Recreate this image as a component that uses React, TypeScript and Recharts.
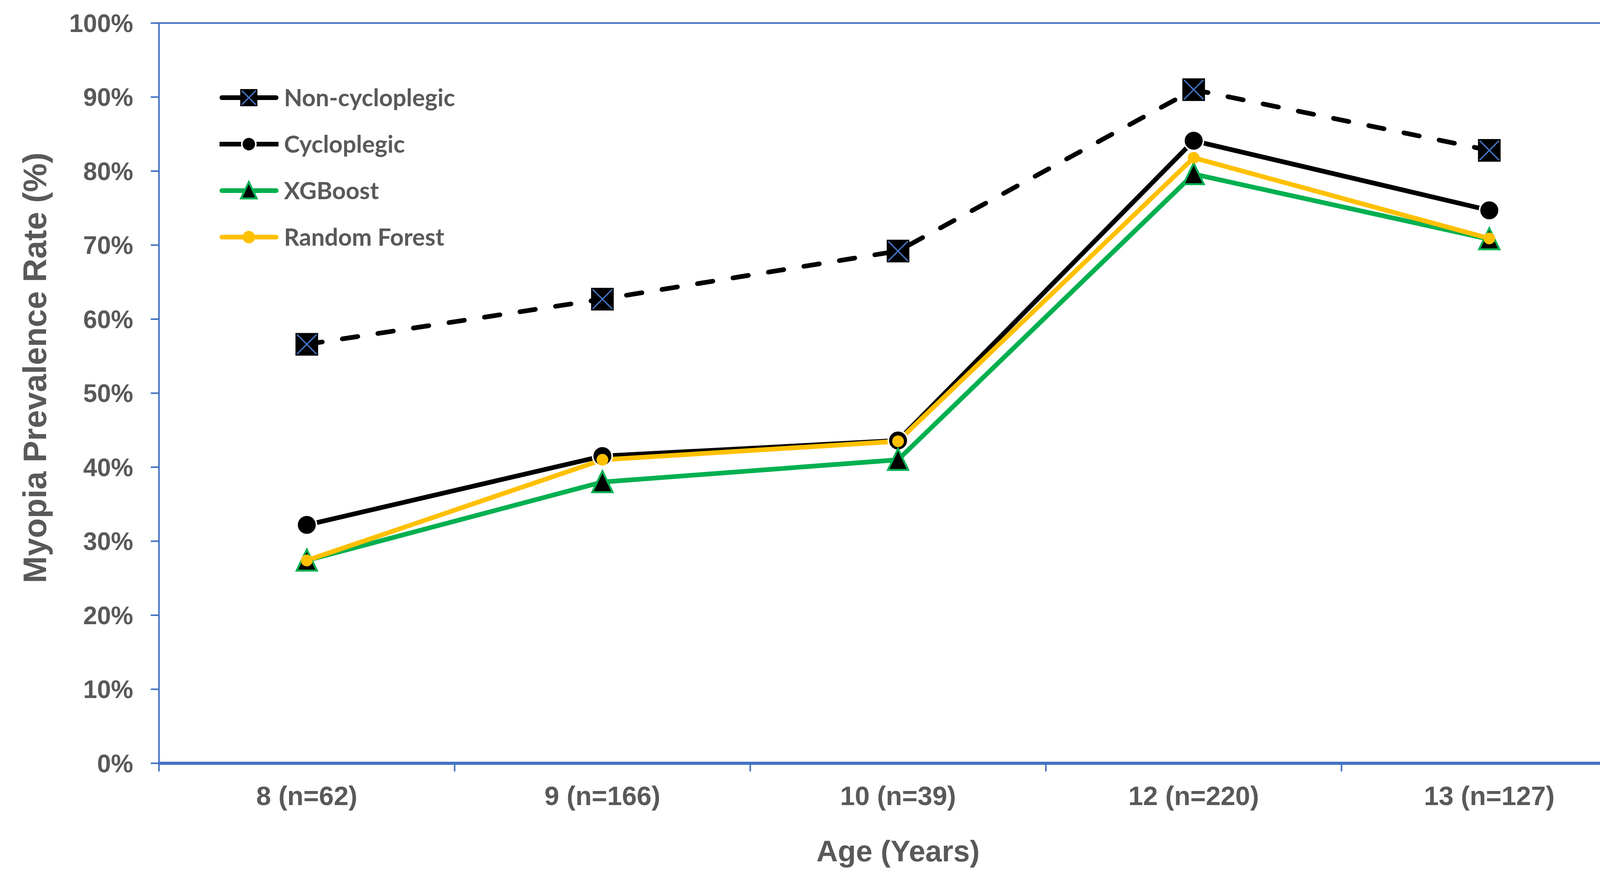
import { LineChart, Line, XAxis, YAxis, ReferenceArea, Legend, Label } from "recharts";

const categories = ["8 (n=62)", "9 (n=166)", "10 (n=39)", "12 (n=220)", "13 (n=127)"];
const nonCycloplegic = [56.6, 62.7, 69.2, 91.0, 82.8];
const cycloplegic = [32.2, 41.5, 43.6, 84.1, 74.7];
const xgboost = [27.4, 38.0, 41.0, 79.6, 70.8];
const randomForest = [27.4, 41.0, 43.5, 81.8, 70.9];
const yTicks = [0, 10, 20, 30, 40, 50, 60, 70, 80, 90, 100];
const xBoundaries = [0, 1, 2, 3, 4, 5];

const W = 4226;
const H = 2240;
const M = { top: 59, right: 35, left: 0, bottom: 0 };
const Y_AXIS_W = 407;
const X_AXIS_H = 286;
const BAND = (W - M.right - Y_AXIS_W) / categories.length;

const BLUE = "#4472C4";
const GRAY = "#595959";
const GREEN = "#00B050";
const YELLOW = "#FFC000";
const ARIAL = "'Liberation Sans', Arial, sans-serif";
const LINE_W = 12;

const data = categories.map((label, i) => ({
  x: i + 0.5,
  label,
  nonCyclo: nonCycloplegic[i],
  cyclo: cycloplegic[i],
  xgb: xgboost[i],
  rf: randomForest[i],
}));

type MarkProps = { cx: number; cy: number; legend?: boolean };

const SquareX = ({ cx, cy, legend }: MarkProps) => {
  const s = legend ? 42 : 56;
  const h = s / 2 - 3;
  return (
    <g>
      <rect x={cx - s / 2} y={cy - s / 2} width={s} height={s} fill="#000" stroke="#000" strokeWidth={2} />
      <line x1={cx - h} y1={cy - h} x2={cx + h} y2={cy + h} stroke={BLUE} strokeWidth={3.5} />
      <line x1={cx + h} y1={cy - h} x2={cx - h} y2={cy + h} stroke={BLUE} strokeWidth={3.5} />
    </g>
  );
};

const BlackDot = ({ cx, cy, legend }: MarkProps) => (
  <circle cx={cx} cy={cy} r={legend ? 18 : 25} fill="#000" stroke="#fff" strokeWidth={4} />
);

const Triangle = ({ cx, cy, legend }: MarkProps) => {
  const s = legend ? 40 : 52;
  return (
    <polygon
      points={`${cx},${cy - s / 2 - 2} ${cx + s / 2},${cy + s / 2} ${cx - s / 2},${cy + s / 2}`}
      fill="#000"
      stroke={GREEN}
      strokeWidth={5}
      strokeLinejoin="miter"
    />
  );
};

const YellowDot = ({ cx, cy, legend }: MarkProps) => (
  <circle cx={cx} cy={cy} r={legend ? 16 : 15} fill={YELLOW} />
);

const series = [
  { key: "nonCyclo", name: "Non-cycloplegic", color: "#000", dash: "40 52", Marker: SquareX, cap: "round" },
  { key: "cyclo", name: "Cycloplegic", color: "#000", dash: undefined, Marker: BlackDot, cap: "butt" },
  { key: "xgb", name: "XGBoost", color: GREEN, dash: undefined, Marker: Triangle, cap: "round" },
  { key: "rf", name: "Random Forest", color: YELLOW, dash: undefined, Marker: YellowDot, cap: "round" },
];

const XTick = (props: any) => {
  const { x, y, payload } = props;
  const i = payload.value;
  if (i >= categories.length) return <g />;
  return (
    <text x={x + BAND / 2} y={y + 86} textAnchor="middle" fill={GRAY} fontFamily={ARIAL} fontWeight="bold" fontSize={68}>
      {categories[i]}
    </text>
  );
};

const renderLegend = () => (
  <svg width={900} height={480}>
    {series.map((s, i) => {
      const cy = 60 + i * 119;
      const Mk = s.Marker;
      return (
        <g key={s.key}>
          <line x1={s.cap === "round" ? 28 : 22} y1={cy} x2={s.cap === "round" ? 167 : 173} y2={cy} stroke={s.color} strokeWidth={LINE_W} strokeLinecap={s.cap as any} />
          <Mk cx={97} cy={cy} legend />
          <text x={187} y={cy} dy="0.36em" fill={GRAY} fontFamily="Lato, 'Open Sans', sans-serif" fontWeight="bold" fontSize={61}>
            {s.name}
          </text>
        </g>
      );
    })}
  </svg>
);

export default function App() {
  return (
    <div style={{ position: "absolute", left: 0, top: 0, background: "#fff" }}>
      <LineChart width={W} height={H} data={data} margin={M}>
        <ReferenceArea x1={0} x2={5} y1={0} y2={100} fill="none" stroke={BLUE} strokeWidth={4} />
        <XAxis
          type="number"
          dataKey="x"
          domain={[0, 5]}
          ticks={xBoundaries}
          interval={0}
          height={X_AXIS_H}
          tickSize={21}
          tickMargin={0}
          axisLine={{ stroke: BLUE, strokeWidth: 8 }}
          tickLine={{ stroke: BLUE, strokeWidth: 4 }}
          tick={<XTick />}
        >
          <Label
            content={(p: any) => {
              const vb = p.viewBox;
              return (
                <text x={vb.x + vb.width / 2} y={vb.y + 251} textAnchor="middle" fill={GRAY} fontFamily={ARIAL} fontWeight="bold" fontSize={76}>
                  Age (Years)
                </text>
              );
            }}
          />
        </XAxis>
        <YAxis
          type="number"
          domain={[0, 100]}
          ticks={yTicks}
          interval={0}
          width={Y_AXIS_W}
          tickSize={21}
          tickMargin={45}
          tickFormatter={(v: number) => `${v}%`}
          axisLine={{ stroke: BLUE, strokeWidth: 4 }}
          tickLine={{ stroke: BLUE, strokeWidth: 4 }}
          tick={{ fill: GRAY, fontFamily: ARIAL, fontWeight: "bold", fontSize: 64 }}
        >
          <Label
            content={(p: any) => {
              const vb = p.viewBox;
              const cx = 89;
              const cy = vb.y + vb.height / 2 - 65;
              return (
                <text x={cx} y={cy} dy="0.35em" transform={`rotate(-90 ${cx} ${cy})`} textAnchor="middle" fill={GRAY} fontFamily={ARIAL} fontWeight="bold" fontSize={83}>
                  Myopia Prevalence Rate (%)
                </text>
              );
            }}
          />
        </YAxis>
        <Legend
          layout="vertical"
          align="center"
          verticalAlign="middle"
          content={renderLegend}
          wrapperStyle={{ left: 540, top: 190, width: 900, height: 480 }}
        />
        {series.map((s) => (
          <Line
            key={s.key}
            type="linear"
            dataKey={s.key}
            name={s.name}
            stroke={s.color}
            strokeWidth={LINE_W}
            strokeDasharray={s.dash}
            strokeLinecap={s.dash ? "round" : "butt"}
            strokeLinejoin="round"
            isAnimationActive={false}
            activeDot={false}
            dot={(p: any) => {
              const Mk = s.Marker;
              return (
                <g key={`${s.key}-${p.index}`}>
                  <Mk cx={p.cx} cy={p.cy} />
                </g>
              );
            }}
          />
        ))}
      </LineChart>
    </div>
  );
}
